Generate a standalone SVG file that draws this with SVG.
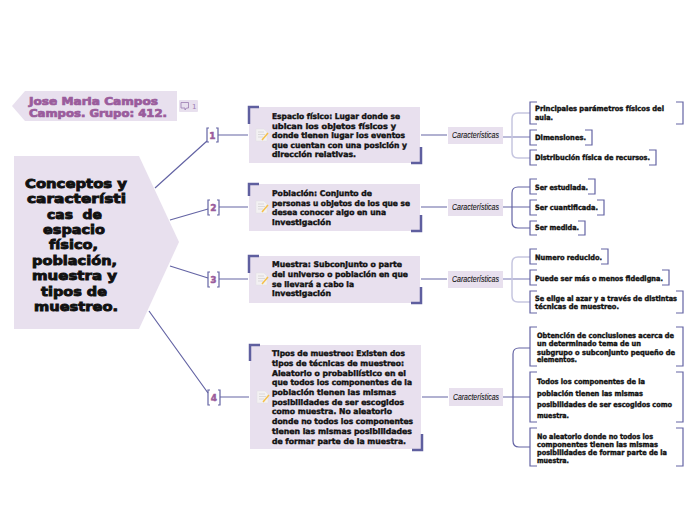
<svg xmlns="http://www.w3.org/2000/svg" xmlns:xlink="http://www.w3.org/1999/xlink" width="696" height="520" viewBox="0 0 696 520">
<style>
text{font-family:"DejaVu Sans","Liberation Sans",sans-serif;font-weight:700;fill:#111}
.m{font-size:13px;stroke:#111;stroke-width:.9}
.h{font-size:10px;fill:#9a5c9c;stroke:#9a5c9c;stroke-width:.7}
.t{font-size:7.800px;stroke:#111;stroke-width:.4}
.i{font-size:7.300px;stroke:#111;stroke-width:.4}
.c{font-family:"Liberation Sans",sans-serif;font-weight:400;font-style:italic;font-size:9.500px;stroke:#111;stroke-width:.1}
.n{font-size:9px;fill:#9a5c9c;stroke:#9a5c9c;stroke-width:.5;text-anchor:middle}
.box{fill:#e8e0ee}
.cn{fill:none;stroke:#6464a4;stroke-width:1.2}
.lt{fill:none;stroke:#c6c6e0;stroke-width:1.5}
.mid{fill:none;stroke:#8e8ec0;stroke-width:1.2}
.br{fill:none;stroke:#6464a4;stroke-width:1.2}
.cr{fill:none;stroke:#5f5f9f;stroke-width:2.5}
</style>
<defs>
<g id="note">
<path d="M0 0H8L11 3V12H0Z" fill="#f3f1f3" stroke="#e0e0e0" stroke-width=".5"/>
<path d="M2 3H8M2 5.500H9M2 8H7" stroke="#d2d2d2" stroke-width=".8" fill="none"/>
<path d="M6 11L12 4" stroke="#f5c04a" stroke-width="1.500" fill="none"/>
</g>
</defs>
<g id="connectors">
<path class="cn" d="M155 188L207 141M170 220L208 209M170 266L208 278M149 311L208 393"/>
<path class="cn" d="M218 135H248M219 207H248M219 279H248M220 397H249M421 135H447M421 207H447M421 279H447M422 397H448"/>
<path class="mid" d="M503 137H530"/>
<path class="lt" d="M530 113H518Q512 113 512 119V152Q512 158 518 158H530"/>
<path class="cn" d="M503 207H530M530 187H518Q512 187 512 193V222Q512 228 518 228H530"/>
<path class="mid" d="M503 279H530"/>
<path class="lt" d="M530 257H518Q512 257 512 263V296Q512 302 518 302H530"/>
<path class="cn" d="M503 397H530M530 348H519Q513 348 513 354V441Q513 447 519 447H530"/>
</g>
<g id="root">
<path class="box" d="M14 156H139L179 242L139 329H14Z"/>
<text class="m" x="25" y="187.500" textLength="102" lengthAdjust="spacingAndGlyphs">Conceptos y</text>
<text class="m" x="27" y="203" textLength="99" lengthAdjust="spacingAndGlyphs">característi</text>
<text class="m" x="47" y="218.500" textLength="55" lengthAdjust="spacingAndGlyphs" xml:space="preserve">cas  de</text>
<text class="m" x="43" y="233.500" textLength="62" lengthAdjust="spacingAndGlyphs">espacio</text>
<text class="m" x="49" y="249" textLength="49" lengthAdjust="spacingAndGlyphs">físico,</text>
<text class="m" x="32" y="264.500" textLength="85" lengthAdjust="spacingAndGlyphs">población,</text>
<text class="m" x="32" y="279.500" textLength="85" lengthAdjust="spacingAndGlyphs">muestra y</text>
<text class="m" x="41" y="295.500" textLength="66" lengthAdjust="spacingAndGlyphs">tipos de</text>
<text class="m" x="34" y="310.500" textLength="84" lengthAdjust="spacingAndGlyphs">muestreo.</text>
</g>
<g id="author">
<path class="box" d="M25 91H177V121H25L12 106Z"/>
<text class="h" x="29" y="104.500" textLength="129" lengthAdjust="spacingAndGlyphs">Jose Maria Campos</text>
<text class="h" x="29" y="116.500" textLength="138" lengthAdjust="spacingAndGlyphs">Campos. Grupo: 412.</text>
</g>
<g id="comment">
<rect class="box" x="179" y="100" width="19" height="12" rx="1"/>
<path d="M181 102.500H188.500V108H186.500L185 110V108H181Z" fill="none" stroke="#9a7cb0" stroke-width=".8"/>
<text x="192" y="109" style="font-size:7px;font-weight:400;fill:#9a7cb0">1</text>
</g>
<g id="n1">
<path class="br" d="M209 128H207V142H209M216 128H218V142H216"/>
<text class="n" x="212.500" y="139">1</text>
</g>
<g id="n2">
<path class="br" d="M210 200H208V215H210M217 200H219V215H217"/>
<text class="n" x="213.500" y="211">2</text>
</g>
<g id="n3">
<path class="br" d="M210 272H208V287H210M217 272H219V287H217"/>
<text class="n" x="213.500" y="283">3</text>
</g>
<g id="n4">
<path class="br" d="M210 390H208V405H210M218 390H220V405H218"/>
<text class="n" x="214" y="401">4</text>
</g>
<g id="topic1">
<rect class="box" x="249" y="107" width="171" height="56"/>
<path class="cr" d="M259 107H249V124M421 147V163H411"/>
<use xlink:href="#note" href="#note" x="256" y="129"/>
<text class="t" x="272" y="119" textLength="128" lengthAdjust="spacingAndGlyphs">Espacio físico: Lugar donde se</text>
<text class="t" x="272" y="128.500" textLength="124" lengthAdjust="spacingAndGlyphs">ubican los objetos físicos y</text>
<text class="t" x="272" y="138" textLength="133" lengthAdjust="spacingAndGlyphs">donde tienen lugar los eventos</text>
<text class="t" x="272" y="148" textLength="135" lengthAdjust="spacingAndGlyphs">que cuentan con una posición y</text>
<text class="t" x="272" y="157" textLength="84" lengthAdjust="spacingAndGlyphs">dirección relativas.</text>
</g>
<g id="topic2">
<rect class="box" x="249" y="184" width="171" height="47"/>
<path class="cr" d="M259 184H249V196M421 215V231H411"/>
<use xlink:href="#note" href="#note" x="256" y="201"/>
<text class="t" x="272" y="196" textLength="100" lengthAdjust="spacingAndGlyphs">Población: Conjunto de</text>
<text class="t" x="272" y="206" textLength="138" lengthAdjust="spacingAndGlyphs">personas u objetos de los que se</text>
<text class="t" x="272" y="215" textLength="114" lengthAdjust="spacingAndGlyphs">desea conocer algo en una</text>
<text class="t" x="272" y="225" textLength="59" lengthAdjust="spacingAndGlyphs">investigación</text>
</g>
<g id="topic3">
<rect class="box" x="249" y="256" width="171" height="47"/>
<path class="cr" d="M259 256H249V273M421 287V303H411"/>
<use xlink:href="#note" href="#note" x="256" y="273"/>
<text class="t" x="272" y="267" textLength="130" lengthAdjust="spacingAndGlyphs">Muestra: Subconjunto o parte</text>
<text class="t" x="272" y="277" textLength="136" lengthAdjust="spacingAndGlyphs">del universo o población en que</text>
<text class="t" x="272" y="287" textLength="82" lengthAdjust="spacingAndGlyphs">se llevará a cabo la</text>
<text class="t" x="272" y="296" textLength="59" lengthAdjust="spacingAndGlyphs">investigación</text>
</g>
<g id="topic4">
<rect class="box" x="250" y="345" width="171" height="104"/>
<path class="cr" d="M260 345H250V361M422 434V450H412"/>
<use xlink:href="#note" href="#note" x="257" y="391"/>
<text class="t" x="272" y="356" textLength="133" lengthAdjust="spacingAndGlyphs">Tipos de muestreo: Existen dos</text>
<text class="t" x="272" y="366" textLength="132" lengthAdjust="spacingAndGlyphs">tipos de técnicas de muestreo:</text>
<text class="t" x="272" y="376" textLength="134" lengthAdjust="spacingAndGlyphs">Aleatorio o probabilístico en el</text>
<text class="t" x="272" y="385" textLength="140" lengthAdjust="spacingAndGlyphs">que todos los componentes de la</text>
<text class="t" x="272" y="395" textLength="124" lengthAdjust="spacingAndGlyphs">población tienen las mismas</text>
<text class="t" x="272" y="405" textLength="132" lengthAdjust="spacingAndGlyphs">posibilidades de ser escogidos</text>
<text class="t" x="272" y="414" textLength="120" lengthAdjust="spacingAndGlyphs">como muestra. No aleatorio</text>
<text class="t" x="272" y="424" textLength="141" lengthAdjust="spacingAndGlyphs">donde no todos los componentes</text>
<text class="t" x="272" y="434" textLength="140" lengthAdjust="spacingAndGlyphs">tienen las mismas posibilidades</text>
<text class="t" x="272" y="444" textLength="134" lengthAdjust="spacingAndGlyphs">de formar parte de la muestra.</text>
</g>
<g id="car1"><rect class="box" x="448" y="127" width="55" height="17"/><text class="c" x="452" y="138" textLength="47" lengthAdjust="spacingAndGlyphs">Características</text></g>
<g id="car2"><rect class="box" x="448" y="199" width="55" height="17"/><text class="c" x="452" y="210" textLength="47" lengthAdjust="spacingAndGlyphs">Características</text></g>
<g id="car3"><rect class="box" x="448" y="271" width="55" height="17"/><text class="c" x="452" y="282" textLength="47" lengthAdjust="spacingAndGlyphs">Características</text></g>
<g id="car4"><rect class="box" x="449" y="388" width="54" height="18"/><text class="c" x="453" y="400" textLength="46" lengthAdjust="spacingAndGlyphs">Características</text></g>
<g id="a1"><path class="br" d="M537 102H530V124H537M676 102H683V124H676"/>
<text class="i" x="535" y="110.500" textLength="129" lengthAdjust="spacingAndGlyphs">Principales parámetros físicos del</text>
<text class="i" x="535" y="119.500" textLength="18" lengthAdjust="spacingAndGlyphs">aula.</text></g>
<g id="a2"><path class="br" d="M537 130H530V145H537M585 130H592V145H585"/>
<text class="i" x="535" y="140" textLength="51" lengthAdjust="spacingAndGlyphs">Dimensiones.</text></g>
<g id="a3"><path class="br" d="M537 150H530V165H537M649 150H656V165H649"/>
<text class="i" x="535" y="160" textLength="115" lengthAdjust="spacingAndGlyphs">Distribución física de recursos.</text></g>
<g id="b1"><path class="br" d="M537 179H530V194H537M588 179H595V194H588"/>
<text class="i" x="535" y="189.500" textLength="53" lengthAdjust="spacingAndGlyphs">Ser estudiada.</text></g>
<g id="b2"><path class="br" d="M537 200H530V215H537M597 200H604V215H597"/>
<text class="i" x="535" y="210" textLength="63" lengthAdjust="spacingAndGlyphs">Ser cuantificada.</text></g>
<g id="b3"><path class="br" d="M537 221H530V235H537M578 221H585V235H578"/>
<text class="i" x="535" y="230" textLength="44" lengthAdjust="spacingAndGlyphs">Ser medida.</text></g>
<g id="c1"><path class="br" d="M537 249H530V264H537M601 249H608V264H601"/>
<text class="i" x="535" y="259.500" textLength="67" lengthAdjust="spacingAndGlyphs">Numero reducido.</text></g>
<g id="c2"><path class="br" d="M537 270H530V285H537M662 270H669V285H662"/>
<text class="i" x="535" y="280.500" textLength="128" lengthAdjust="spacingAndGlyphs">Puede ser más o menos fidedigna.</text></g>
<g id="c3"><path class="br" d="M537 291H530V313H537M676 291H683V313H676"/>
<text class="i" x="535" y="301" textLength="142" lengthAdjust="spacingAndGlyphs">Se elige al azar y a través de distintas</text>
<text class="i" x="535" y="309" textLength="84" lengthAdjust="spacingAndGlyphs">técnicas de muestreo.</text></g>
<g id="d1"><path class="br" d="M537 327H530V366H537M676 327H683V366H676"/>
<text class="i" x="537" y="337.500" textLength="137" lengthAdjust="spacingAndGlyphs">Obtención de conclusiones acerca de</text>
<text class="i" x="537" y="346" textLength="104" lengthAdjust="spacingAndGlyphs">un determinado tema de un</text>
<text class="i" x="537" y="354.500" textLength="138" lengthAdjust="spacingAndGlyphs">subgrupo o subconjunto pequeño de</text>
<text class="i" x="537" y="362" textLength="40" lengthAdjust="spacingAndGlyphs">elementos.</text></g>
<g id="d2"><path class="br" d="M537 372H530V422H537M676 372H683V422H676"/>
<text class="i" x="537" y="384" textLength="108" lengthAdjust="spacingAndGlyphs">Todos los componentes de la</text>
<text class="i" x="537" y="395.500" textLength="106" lengthAdjust="spacingAndGlyphs">población tienen las mismas</text>
<text class="i" x="537" y="406.500" textLength="135" lengthAdjust="spacingAndGlyphs">posibilidades de ser escogidos como</text>
<text class="i" x="537" y="417.500" textLength="32" lengthAdjust="spacingAndGlyphs">muestra.</text></g>
<g id="d3"><path class="br" d="M537 428H530V466H537M676 428H683V466H676"/>
<text class="i" x="537" y="438.500" textLength="116" lengthAdjust="spacingAndGlyphs">No aleatorio donde no todos los</text>
<text class="i" x="537" y="446.500" textLength="121" lengthAdjust="spacingAndGlyphs">componentes tienen las mismas</text>
<text class="i" x="537" y="454.500" textLength="130" lengthAdjust="spacingAndGlyphs">posibilidades de formar parte de la</text>
<text class="i" x="537" y="463" textLength="32" lengthAdjust="spacingAndGlyphs">muestra.</text></g>
</svg>
